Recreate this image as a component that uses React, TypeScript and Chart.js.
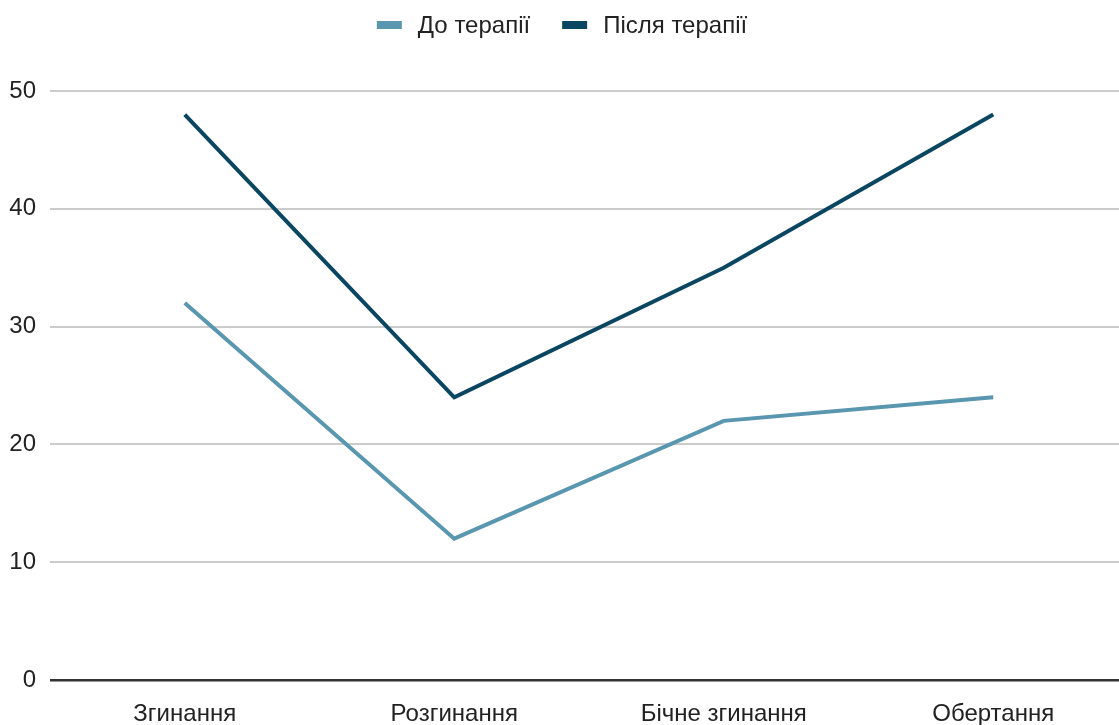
import React, { useEffect, useRef } from "react";
import { Chart, registerables } from "chart.js";

Chart.register(...registerables);

const categories = ["Згинання", "Розгинання", "Бічне згинання", "Обертання"];
const beforeTherapy = [32, 12, 22, 24];
const afterTherapy = [48, 24, 35, 48];
const seriesNames = ["До терапії", "Після терапії"];
const yTicks = [0, 10, 20, 30, 40, 50];

const FONT = "'Liberation Sans', Arial, sans-serif";
const FONT_SIZE = 24;

// Legend drawn above the plot: swatch, gap, label, spacing, centred on the canvas.
const topLegend = {
  id: "topLegend",
  afterDraw(chart: any) {
    const ctx = chart.ctx as CanvasRenderingContext2D;
    const boxW = 25;
    const boxH = 8;
    const gap = 16;
    const spacing = 32;
    const cy = 25;
    ctx.save();
    ctx.font = `${FONT_SIZE}px ${FONT}`;
    ctx.textBaseline = "middle";
    ctx.textAlign = "left";
    const items = chart.data.datasets.map((ds: any) => ({
      label: ds.label as string,
      color: ds.borderColor as string,
      w: ctx.measureText(ds.label).width,
    }));
    const total =
      items.reduce((s: number, it: any) => s + boxW + gap + it.w, 0) + spacing * (items.length - 1);
    let x = 562 - total / 2;
    for (const it of items) {
      ctx.fillStyle = it.color;
      ctx.fillRect(x, cy - boxH / 2, boxW, boxH);
      x += boxW + gap;
      ctx.fillStyle = "#222";
      ctx.fillText(it.label, x, cy + 1);
      x += it.w + spacing;
    }
    ctx.restore();
  },
};

export default function App() {
  const canvasRef = useRef<HTMLCanvasElement | null>(null);

  useEffect(() => {
    document.body.style.margin = "0";
    const canvas = canvasRef.current;
    if (!canvas) return;
    const chart = new Chart(canvas, {
      type: "line",
      data: {
        labels: categories,
        datasets: [
          {
            label: seriesNames[0],
            data: beforeTherapy,
            borderColor: "#5996b0",
            backgroundColor: "#5996b0",
            borderWidth: 4,
            pointRadius: 0,
            tension: 0,
          },
          {
            label: seriesNames[1],
            data: afterTherapy,
            borderColor: "#0a4661",
            backgroundColor: "#0a4661",
            borderWidth: 4,
            pointRadius: 0,
            tension: 0,
          },
        ],
      },
      plugins: [topLegend],
      options: {
        responsive: false,
        animation: false,
        layout: { padding: { top: 91, left: 0, right: 0, bottom: 0 } },
        plugins: {
          tooltip: { enabled: false },
          legend: { display: false },
        },
        scales: {
          x: {
            type: "category",
            offset: true,
            grid: { display: false, drawTicks: false },
            border: { display: false },
            ticks: {
              color: "#222",
              padding: 20,
              font: { family: FONT, size: FONT_SIZE },
              maxRotation: 0,
            },
            afterFit: (scale: any) => {
              scale.height = 45;
            },
          },
          y: {
            min: 0,
            max: 50,
            afterBuildTicks: (scale: any) => {
              scale.ticks = yTicks.map((v) => ({ value: v }));
            },
            grid: {
              drawTicks: false,
              color: (ctx: any) => (ctx.tick && ctx.tick.value === 0 ? "#333333" : "#cccccc"),
              lineWidth: (ctx: any) => (ctx.tick && ctx.tick.value === 0 ? 2.5 : 2),
            },
            border: { display: false },
            ticks: {
              color: "#222",
              padding: 14,
              font: { family: FONT, size: FONT_SIZE },
            },
            afterFit: (scale: any) => {
              scale.width = 50;
            },
          },
        },
      },
    });
    return () => chart.destroy();
  }, []);

  return (
    <div
      style={{
        position: "fixed",
        left: 0,
        top: 0,
        width: 1119,
        height: 725,
        overflow: "hidden",
        background: "#fff",
      }}
    >
      <canvas ref={canvasRef} width={1128} height={725} style={{ display: "block" }} />
    </div>
  );
}
